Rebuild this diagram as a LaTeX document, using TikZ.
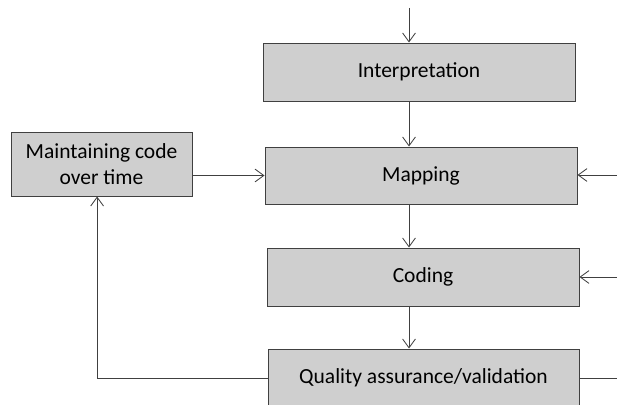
\documentclass[tikz,border=0pt]{standalone}
\usepackage{fontspec}
\setmainfont{Carlito}
\usetikzlibrary{arrows.meta}
\tikzset{
  stage/.style={draw=black!75, fill=black!19, line width=0.7pt,
    inner sep=0pt, minimum width=7.8cm, minimum height=1.45cm,
    font=\fontsize{15.3}{18.5}\selectfont},
  flow/.style={draw=black!75, line width=0.6pt},
}
\begin{document}
\begin{tikzpicture}[>={Straight Barb[length=2.2mm,width=3.2mm]}]
      \useasboundingbox (0,0) rectangle (15.425,10.1);
      \draw
        (10.475,8.3) node[stage] (interp){Interpretation}
        (10.525,5.7125) node[stage, minimum height=1.425cm] (mapping){Mapping}
        (10.575,3.175) node[stage] (coding){Coding}
        (10.5875,0.65) node[stage, minimum width=7.775cm] (quality){Quality assurance/validation}
        (2.5375,6.0) node[stage, minimum width=4.525cm, minimum height=1.6cm,
          align=center] (maint){Maintaining code\\over time};
      \coordinate (top) at (10.225,9.9);
      \coordinate (mapin) at (15.425,5.725);
      \coordinate (codein) at (15.425,3.175);
      \coordinate (qualout) at (15.425,0.65);
      \begin{scope}[->, flow]
        \draw (top) to (top |- interp.north);
        \draw (interp.south -| top) to (mapping.north -| top);
        \draw (mapping.south -| top) to (coding.north -| top);
        \draw (coding.south -| top) to (quality.north -| top);
        \draw (maint.east |- mapping) to (mapping.west);
        \draw (mapin) to (mapping.east |- mapin);
        \draw (codein) to (coding.east |- codein);
        \draw (quality.west) -| ([xshift=-0.11cm]maint.south);
      \end{scope}
      \draw[flow] (quality.east) to (qualout);
    \end{tikzpicture}
\end{document}
